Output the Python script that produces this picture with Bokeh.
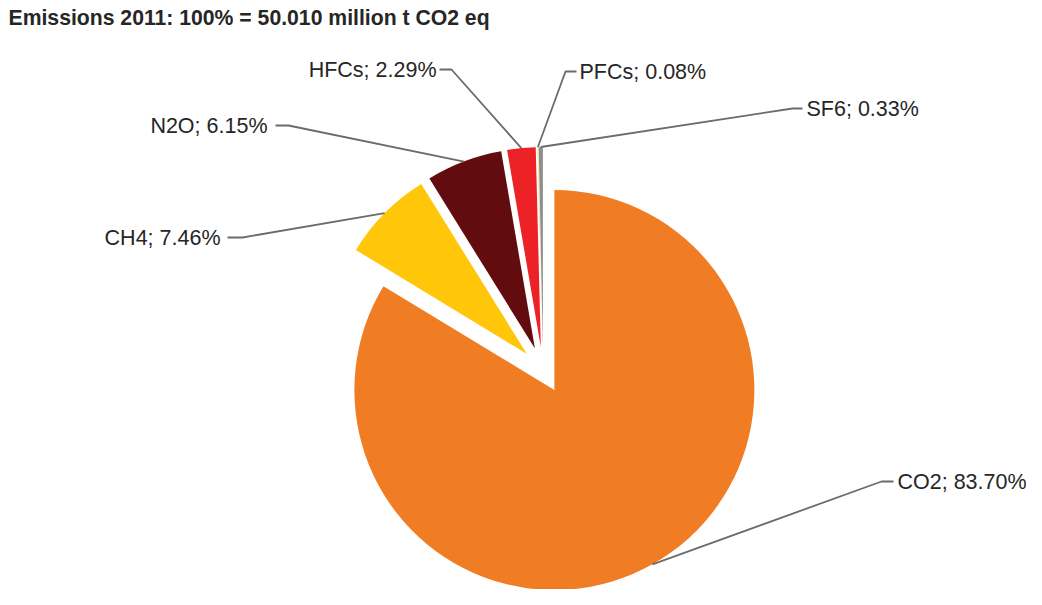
import math
from bokeh.plotting import figure
from bokeh.models import Range1d, ColumnDataSource
from bokeh.core.properties import value
from bokeh.embed import file_html
from bokeh.resources import INLINE

# ---- data ----
gases = ["CO2", "CH4", "N2O", "HFCs", "PFCs", "SF6"]
shares = [83.70, 7.46, 6.15, 2.29, 0.08, 0.33]
colors = ["#F07D24", "#FFC60A", "#620C0F", "#EC2227", "#F2DE8A", "#8E8E8E"]
title_text = "Emissions 2011: 100% = 50.010 million t CO2 eq"

# ---- layout (picture pixels, y downward) ----
PAGE_H = 605
TOP = 8                    # the figure starts 8px down the page
W, H = 1026, 589
CX, CY = 542.6, 377.5      # pie centre
R = 200                    # pie radius
EXPLODE = 23               # every slice is pulled out by this much
# per label: text x, baseline y, text alignment, leader start x, leader elbow x
label_layout = {
    "CO2":  (897, 489, "left", 893, 881),
    "CH4":  (220, 245, "right", 227, 242),
    "N2O":  (267, 133, "right", 275, 288),
    "HFCs": (436, 77, "right", 439, 451),
    "PFCs": (579, 79, "left", 576, 565),
    "SF6":  (806, 116, "left", 802, 792),
}

def uy(y):  # picture y (down) -> data y (up)
    return PAGE_H - y

p = figure(width=W, height=H, output_backend="svg", toolbar_location=None,
           x_range=Range1d(0, W), y_range=Range1d(PAGE_H - TOP - H, PAGE_H - TOP),
           x_axis_type=None, y_axis_type=None, min_border=0,
           background_fill_color="white", border_fill_color="white")
p.grid.visible = False
p.outline_line_color = None

total = sum(shares)
cum = 0.0
wx, wy, sa, ea, ax, ay = [], [], [], [], [], []
for s in shares:
    t0 = cum / total * 2 * math.pi          # clockwise from 12 o'clock
    t1 = (cum + s) / total * 2 * math.pi
    cum += s
    mid = (t0 + t1) / 2
    cx = CX + EXPLODE * math.sin(mid)
    cy = uy(CY) + EXPLODE * math.cos(mid)
    wx.append(cx)
    wy.append(cy)
    sa.append(math.pi / 2 - t0)
    ea.append(math.pi / 2 - t1)
    ax.append(cx + R * math.sin(mid))
    ay.append(cy + R * math.cos(mid))

src = ColumnDataSource(dict(x=wx, y=wy, sa=sa, ea=ea, color=colors))
p.wedge(x="x", y="y", radius=R, start_angle="sa", end_angle="ea",
        direction="clock", fill_color="color", line_color=None, source=src)

# leader lines
xs, ys = [], []
for i, g in enumerate(gases):
    tx, by, al, x0, x1 = label_layout[g]
    xs.append([x0, x1, ax[i]])
    ys.append([uy(by), uy(by), ay[i]])
p.multi_line(xs=xs, ys=ys, line_color="#6B6B6B", line_width=1.8)

# labels
lab_text, lab_x, lab_y, lab_al = [], [], [], []
for g, s in zip(gases, shares):
    tx, by, al, x0, x1 = label_layout[g]
    lab_text.append(f"{g}; {s:.2f}%")
    lab_x.append(tx)
    lab_y.append(uy(by))
    lab_al.append(al)
lsrc = ColumnDataSource(dict(x=lab_x, y=lab_y, t=lab_text, al=lab_al))
p.text(x="x", y="y", text="t", text_align="al", text_baseline="alphabetic",
       text_font=value("Liberation Sans"), text_font_size=value("21.5px"),
       text_color="#262626", source=lsrc)

# title
p.text(x=[8], y=[uy(25)], text=[title_text], text_align="left",
       text_baseline="alphabetic", text_font=value("Liberation Sans"),
       text_font_size=value("21.2px"), text_font_style="bold", text_color="#262626")

open("out.html", "w").write(file_html(p, INLINE))
